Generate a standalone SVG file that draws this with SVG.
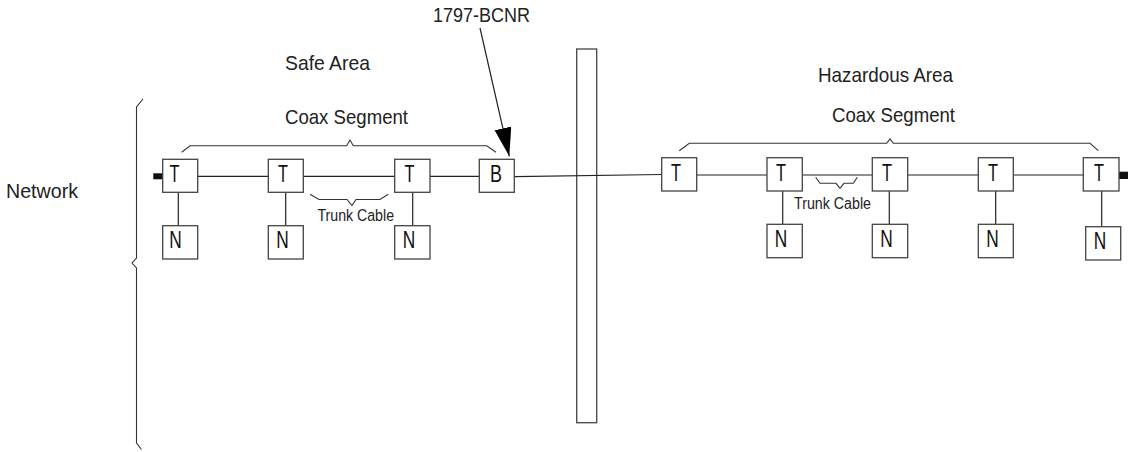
<svg xmlns="http://www.w3.org/2000/svg" width="1128" height="452" viewBox="0 0 1128 452">
<style>
  .bg{fill:#ffffff}
  .box{fill:#ffffff;stroke:#444444;stroke-width:1.3}
  .ln{fill:none;stroke:#222222;stroke-width:1.2}
  .br{fill:none;stroke:#333333;stroke-width:1.1}
  .term{fill:#111111}
  .lbl{font-family:"Liberation Sans Narrow","Liberation Sans",Arial,sans-serif;font-size:21px;fill:#222222}
  .sm{font-family:"Liberation Sans Narrow","Liberation Sans",Arial,sans-serif;font-size:16px;fill:#222222}
  .ltr{font-family:"Liberation Sans Narrow","Liberation Sans",Arial,sans-serif;font-size:24px;fill:#111111;text-anchor:middle}
</style>
<defs>
  <marker id="arrow" markerUnits="userSpaceOnUse" markerWidth="30" markerHeight="18" refX="28.6" refY="8.5" orient="auto">
    <path d="M0,0 L28.6,8.5 L0,17 Z" fill="#000000"/>
  </marker>
</defs>
<rect class="bg" x="0" y="0" width="1128" height="452"/>

<g id="labels">
  <text class="lbl" x="433" y="21.7" textLength="97" lengthAdjust="spacingAndGlyphs">1797-BCNR</text>
  <text class="lbl" x="285" y="70" textLength="85" lengthAdjust="spacingAndGlyphs">Safe Area</text>
  <text class="lbl" x="285" y="123.5" textLength="123" lengthAdjust="spacingAndGlyphs">Coax Segment</text>
  <text class="lbl" x="818" y="82" textLength="135" lengthAdjust="spacingAndGlyphs">Hazardous Area</text>
  <text class="lbl" x="832" y="122" textLength="123" lengthAdjust="spacingAndGlyphs">Coax Segment</text>
  <text class="lbl" x="6" y="198" textLength="72" lengthAdjust="spacingAndGlyphs">Network</text>
  <text class="sm" x="317.5" y="220.5" textLength="76.5" lengthAdjust="spacingAndGlyphs">Trunk Cable</text>
  <text class="sm" x="794" y="209" textLength="77" lengthAdjust="spacingAndGlyphs">Trunk Cable</text>
</g>

<g id="brackets">
  <polyline class="br" points="143,99 136.5,107 136.5,258 132,263 136.5,268 136.5,443 141.5,449.5"/>
  <polyline class="br" points="181.7,152.3 190,145.7 346.7,145.7 350,140 353.3,145.7 486.7,145.7 496,152.3"/>
  <polyline class="br" points="679.3,150.7 689.3,143.3 886.7,143.3 890,139 893.3,143.3 1090,143.3 1098.3,150.7"/>
  <polyline class="br" points="310,194.3 319,199.5 347,199.5 352,205.5 356,199.5 380,199.5 388.3,194.3"/>
  <polyline class="br" points="815.7,177.3 820,183.3 836,183.3 840,188.3 844,183.3 853.3,183.3 857.3,177.3"/>
</g>

<g id="barrier">
  <rect class="box" x="576.7" y="49" width="20" height="373.7"/>
</g>

<g id="connectors">
  <line class="ln" x1="198" y1="176.3" x2="268.3" y2="176.3"/>
  <line class="ln" x1="303.3" y1="176.3" x2="394.7" y2="176.3"/>
  <line class="ln" x1="430" y1="176.3" x2="479.3" y2="176.3"/>
  <line class="ln" x1="514.3" y1="176.7" x2="661.7" y2="174.5"/>
  <line class="ln" x1="696.7" y1="175" x2="767" y2="175"/>
  <line class="ln" x1="802.3" y1="175" x2="872.3" y2="175"/>
  <line class="ln" x1="907.7" y1="175" x2="978.3" y2="175"/>
  <line class="ln" x1="1013.3" y1="175" x2="1083.3" y2="175"/>
  <line class="ln" x1="178.3" y1="192.3" x2="178.3" y2="225.7"/>
  <line class="ln" x1="285.7" y1="192.3" x2="285.7" y2="225.7"/>
  <line class="ln" x1="412.7" y1="192.3" x2="412.7" y2="225.7"/>
  <line class="ln" x1="782.7" y1="191" x2="782.7" y2="224.3"/>
  <line class="ln" x1="889.3" y1="191" x2="889.3" y2="224.3"/>
  <line class="ln" x1="995.7" y1="191" x2="995.7" y2="224.3"/>
  <line class="ln" x1="1101.7" y1="191" x2="1101.7" y2="226.7"/>
  <line class="ln" x1="480" y1="28" x2="509.3" y2="156.3" marker-end="url(#arrow)"/>
</g>

<g id="terminators">
  <rect class="term" x="153.3" y="173.3" width="9.5" height="6"/>
  <rect class="term" x="1119" y="171.7" width="9" height="7.3"/>
</g>

<g id="safe-T1"><rect class="box" x="162.7" y="159.3" width="35" height="33"/><text class="ltr" x="174.5" y="182.3" textLength="10" lengthAdjust="spacingAndGlyphs">T</text></g>
<g id="safe-T2"><rect class="box" x="268.3" y="159.3" width="35" height="33"/><text class="ltr" x="283" y="182.3" textLength="10" lengthAdjust="spacingAndGlyphs">T</text></g>
<g id="safe-T3"><rect class="box" x="394.7" y="159.3" width="35.3" height="33"/><text class="ltr" x="409.5" y="182.3" textLength="10" lengthAdjust="spacingAndGlyphs">T</text></g>
<g id="safe-B"><rect class="box" x="479.3" y="159.3" width="35" height="33"/><text class="ltr" x="496" y="182.3" textLength="12" lengthAdjust="spacingAndGlyphs">B</text></g>
<g id="safe-N1"><rect class="box" x="162.7" y="225.7" width="35" height="33.3"/><text class="ltr" x="175.5" y="248" textLength="12.5" lengthAdjust="spacingAndGlyphs">N</text></g>
<g id="safe-N2"><rect class="box" x="268.3" y="225.7" width="35" height="33.3"/><text class="ltr" x="282.5" y="248" textLength="12.5" lengthAdjust="spacingAndGlyphs">N</text></g>
<g id="safe-N3"><rect class="box" x="394.7" y="225.7" width="35.3" height="33.3"/><text class="ltr" x="409" y="248" textLength="12.5" lengthAdjust="spacingAndGlyphs">N</text></g>

<g id="haz-T1"><rect class="box" x="661.7" y="157.7" width="35" height="33.3"/><text class="ltr" x="676" y="180.8" textLength="10" lengthAdjust="spacingAndGlyphs">T</text></g>
<g id="haz-T2"><rect class="box" x="767" y="157.7" width="35.3" height="33.3"/><text class="ltr" x="781" y="180.8" textLength="10" lengthAdjust="spacingAndGlyphs">T</text></g>
<g id="haz-T3"><rect class="box" x="872.3" y="157.7" width="35.4" height="33.3"/><text class="ltr" x="887" y="180.8" textLength="10" lengthAdjust="spacingAndGlyphs">T</text></g>
<g id="haz-T4"><rect class="box" x="978.3" y="157.7" width="35" height="33.3"/><text class="ltr" x="993" y="180.8" textLength="10" lengthAdjust="spacingAndGlyphs">T</text></g>
<g id="haz-T5"><rect class="box" x="1083.3" y="157.7" width="35.7" height="33.3"/><text class="ltr" x="1099" y="180.8" textLength="10" lengthAdjust="spacingAndGlyphs">T</text></g>
<g id="haz-N2"><rect class="box" x="767" y="224.3" width="35.3" height="33.4"/><text class="ltr" x="781" y="246.5" textLength="12.5" lengthAdjust="spacingAndGlyphs">N</text></g>
<g id="haz-N3"><rect class="box" x="872.3" y="224.3" width="35.4" height="33.4"/><text class="ltr" x="886.5" y="246.5" textLength="12.5" lengthAdjust="spacingAndGlyphs">N</text></g>
<g id="haz-N4"><rect class="box" x="978.3" y="224.3" width="35" height="33.4"/><text class="ltr" x="992.5" y="246.5" textLength="12.5" lengthAdjust="spacingAndGlyphs">N</text></g>
<g id="haz-N5"><rect class="box" x="1085.7" y="226.7" width="35" height="33.3"/><text class="ltr" x="1100" y="249" textLength="12.5" lengthAdjust="spacingAndGlyphs">N</text></g>
</svg>
